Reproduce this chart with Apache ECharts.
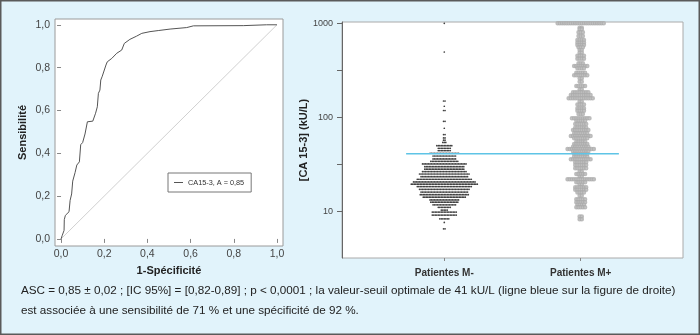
<!DOCTYPE html>
<html>
<head>
<meta charset="utf-8">
<script src="https://cdn.jsdelivr.net/npm/echarts@6/dist/echarts.min.js"></script>
<style>
  html, body { margin: 0; padding: 0; background: #e1f3fb; }
  #chart { width: 700px; height: 335px; }
</style>
</head>
<body>
<div id="chart"></div>
<script>
// ROC curve of CA 15-3 (false positive rate vs. sensitivity)
const rocFpr  = [0, 0.005, 0.014, 0.015, 0.02, 0.037, 0.042, 0.049, 0.054, 0.065, 0.073, 0.085, 0.091, 0.10, 0.111, 0.122, 0.147, 0.16, 0.168, 0.173, 0.18, 0.184, 0.191, 0.2, 0.208, 0.214, 0.235, 0.258, 0.281, 0.293, 0.319, 0.35, 0.374, 0.412, 0.45, 0.505, 0.582, 0.613, 0.844, 0.952, 1.0];
const rocSens = [0, 0.015, 0.04, 0.09, 0.11, 0.127, 0.18, 0.21, 0.27, 0.31, 0.345, 0.36, 0.44, 0.45, 0.49, 0.547, 0.55, 0.587, 0.617, 0.68, 0.695, 0.742, 0.76, 0.765, 0.812, 0.827, 0.843, 0.867, 0.882, 0.913, 0.932, 0.947, 0.96, 0.968, 0.973, 0.98, 0.987, 0.995, 0.996, 1.0, 1.0];
const chanceFpr  = [0, 1];
const chanceSens = [0, 1];
const rocName = 'CA15-3, A = 0,85';
const rocTicks = [0, 0.2, 0.4, 0.6, 0.8, 1.0];

// Dot plot: CA 15-3 level (kU/L) of each row and number of patients on it
const groupNames = ['Patientes M-', 'Patientes M+'];
const mMinusLevels = [1000, 495, 149, 131, 118, 90.6, 76.4, 65.5, 60.3, 57, 54, 49.9, 46.8, 44.2, 41.4, 38.7, 36.0, 34.0, 31.9, 29.8, 28.0, 26.4, 24.9, 23.3, 21.9, 20.5, 19.4, 18.3, 17.1, 16.0, 15.0, 14.1, 13.2, 12.5, 11.7, 11.0, 10.3, 9.8, 9.1, 8.3, 7.6, 6.5];
const mMinusCounts = [1, 1, 2, 1, 2, 2, 1, 2, 2, 2, 3, 11, 9, 9, 20, 16, 16, 19, 30, 27, 27, 30, 34, 32, 37, 42, 45, 37, 34, 32, 33, 29, 20, 19, 16, 9, 5, 17, 17, 7, 1, 2];
const mPlusLevels = [1000, 898, 863, 802, 732, 664, 622, 588, 556, 520, 487, 452, 420, 375, 351, 332, 298, 280, 260, 239, 215, 199, 185, 173, 159, 147, 137, 125, 117, 108, 97.5, 92, 84.9, 77.5, 73.3, 67.6, 63.3, 59.8, 55.0, 52.0, 48.7, 46.0, 43.1, 40.7, 38.1, 35.7, 33.2, 31.1, 28.7, 26.4, 24.9, 23.3, 21.9, 20.4, 19.1, 18.0, 16.9, 15.8, 14.6, 13.4, 12.5, 11.7, 11.0, 8.8, 8.2];
const mPlusCounts = [22, 2, 2, 3, 3, 4, 4, 4, 3, 2, 2, 4, 4, 3, 7, 4, 5, 7, 2, 2, 5, 2, 8, 10, 12, 2, 4, 4, 4, 3, 9, 5, 6, 6, 8, 7, 10, 7, 5, 7, 8, 13, 8, 7, 7, 10, 6, 6, 6, 2, 5, 2, 13, 5, 2, 6, 6, 4, 2, 5, 5, 4, 5, 2, 2];
const cutoff = 41;
const logLabelValues = [10, 100, 1000];
const logTickValues = [1, 2, 3, 4, 5, 6].map(k => Math.pow(10, k / 2));

// Each row is spread symmetrically around its group position
function spreadRows(levels, counts, center, step) {
  const pts = [];
  levels.forEach((lv, r) => {
    const n = counts[r];
    for (let i = 0; i < n; i++) {
      pts.push([center + (i - (n - 1) / 2) * step, lv]);
    }
  });
  return pts;
}

const FONT = '"Liberation Sans", Arial, Helvetica, sans-serif';
const NOTE_FONT = '"Liberation Sans Narrow", "Liberation Sans", Arial, sans-serif';
const comma = v => v.toFixed(1).replace('.', ',');

const chart = echarts.init(document.getElementById('chart'), null, { renderer: 'canvas' });
chart.setOption({
  animation: false,
  backgroundColor: '#e1f3fb',
  textStyle: { fontFamily: FONT },
  grid: [
    { left: 55, top: 19, width: 228, height: 227, show: true, backgroundColor: '#fff', borderColor: '#9a9a9a', borderWidth: 1 },
    { left: 342, top: 22, width: 341, height: 236, show: true, backgroundColor: '#fff', borderColor: '#aaa', borderWidth: 1 }
  ],
  legend: {
    data: [rocName],
    left: 168, top: 173,
    backgroundColor: '#fff', borderColor: '#777', borderWidth: 1,
    padding: [6, 7, 6, 6],
    icon: 'rect', itemWidth: 9, itemHeight: 1, itemGap: 4,
    textStyle: { fontSize: 7.3, color: '#333', fontFamily: FONT }
  },
  xAxis: [
    {
      gridIndex: 0, type: 'value', min: -0.028, max: 1.028,
      axisLine: { show: false },
      axisTick: { show: true, length: 4, customValues: rocTicks, lineStyle: { color: '#888' } },
      axisLabel: { customValues: rocTicks, formatter: comma, fontSize: 10.5, color: '#444', margin: 3 },
      splitLine: { show: false },
      name: '1-Spécificité', nameLocation: 'middle', nameGap: 19,
      nameTextStyle: { fontWeight: 'bold', fontSize: 11, color: '#222' }
    },
    {
      gridIndex: 1, type: 'value', min: 0.25, max: 2.75,
      axisLine: { show: false },
      axisTick: { show: true, length: 3, customValues: [1, 2], lineStyle: { color: '#888' } },
      axisLabel: { customValues: [1, 2], formatter: v => groupNames[Math.round(v) - 1], fontSize: 10, fontWeight: 'bold', color: '#333', margin: 10 },
      splitLine: { show: false }
    }
  ],
  yAxis: [
    {
      gridIndex: 0, type: 'value', min: -0.033, max: 1.027,
      axisLine: { show: false },
      axisTick: { show: true, length: 4, customValues: rocTicks, lineStyle: { color: '#888' } },
      axisLabel: { customValues: rocTicks, formatter: comma, fontSize: 10.5, color: '#444', margin: 5 },
      splitLine: { show: false },
      name: 'Sensibilité', nameLocation: 'middle', nameGap: 27,
      nameTextStyle: { fontWeight: 'bold', fontSize: 11, color: '#222' }
    },
    {
      gridIndex: 1, type: 'log', logBase: 10, min: 3.18, max: 1032,
      axisLine: { show: true, lineStyle: { color: '#666', width: 1 } },
      axisTick: { show: true, length: 5, customValues: logTickValues, lineStyle: { color: '#666' } },
      axisLabel: { customValues: logLabelValues, formatter: v => String(Math.round(v)), fontSize: 9, color: '#444', margin: 9 },
      minorTick: { show: false },
      splitLine: { show: false },
      name: '[CA 15-3] (kU/L)', nameLocation: 'middle', nameGap: 31,
      nameTextStyle: { fontWeight: 'bold', fontSize: 11, color: '#222' }
    }
  ],
  series: [
    {
      type: 'line', name: 'diag', xAxisIndex: 0, yAxisIndex: 0,
      data: chanceFpr.map((x, i) => [x, chanceSens[i]]),
      symbol: 'none', silent: true,
      lineStyle: { color: '#c4c4c4', width: 0.8 }
    },
    {
      type: 'line', name: rocName, xAxisIndex: 0, yAxisIndex: 0,
      data: rocFpr.map((x, i) => [x, rocSens[i]]),
      symbol: 'none', silent: true,
      itemStyle: { color: '#555' },
      lineStyle: { color: '#555', width: 1 }
    },
    {
      type: 'scatter', name: groupNames[0], xAxisIndex: 1, yAxisIndex: 1,
      data: spreadRows(mMinusLevels, mMinusCounts, 1, 0.011),
      symbol: 'circle', symbolSize: 1.7, silent: true,
      itemStyle: { color: '#111' }
    },
    {
      type: 'scatter', name: groupNames[1], xAxisIndex: 1, yAxisIndex: 1,
      data: spreadRows(mPlusLevels, mPlusCounts, 2, 0.0161),
      symbol: 'emptyCircle', symbolSize: 2.5, silent: true,
      itemStyle: { color: '#ababab', borderColor: '#ababab', borderWidth: 0.45 }
    },
    {
      type: 'line', name: 'seuil', xAxisIndex: 1, yAxisIndex: 1,
      data: [[0.72, cutoff], [2.28, cutoff]],
      symbol: 'none', silent: true, z: 5,
      lineStyle: { color: '#5ec4e6', width: 1.5 }
    }
  ],
  graphic: [
    {
      type: 'rect', silent: true, z: 100,
      shape: { x: 0.75, y: 0.75, width: 698.5, height: 333.5 },
      style: { fill: 'none', stroke: '#5a5a5a', lineWidth: 1.5 }
    },
    {
      type: 'text', left: 21, top: 285, silent: true,
      style: {
        text: 'ASC = 0,85 ± 0,02 ; [IC 95%] = [0,82-0,89] ; p < 0,0001 ; la valeur-seuil optimale de 41 kU/L (ligne bleue sur la figure de droite)',
        fontSize: 11.7, fontFamily: NOTE_FONT, fill: '#222'
      }
    },
    {
      type: 'text', left: 21, top: 305, silent: true,
      style: {
        text: 'est associée à une sensibilité de 71 % et une spécificité de 92 %.',
        fontSize: 11.7, fontFamily: NOTE_FONT, fill: '#222'
      }
    }
  ]
});
</script>
</body>
</html>
